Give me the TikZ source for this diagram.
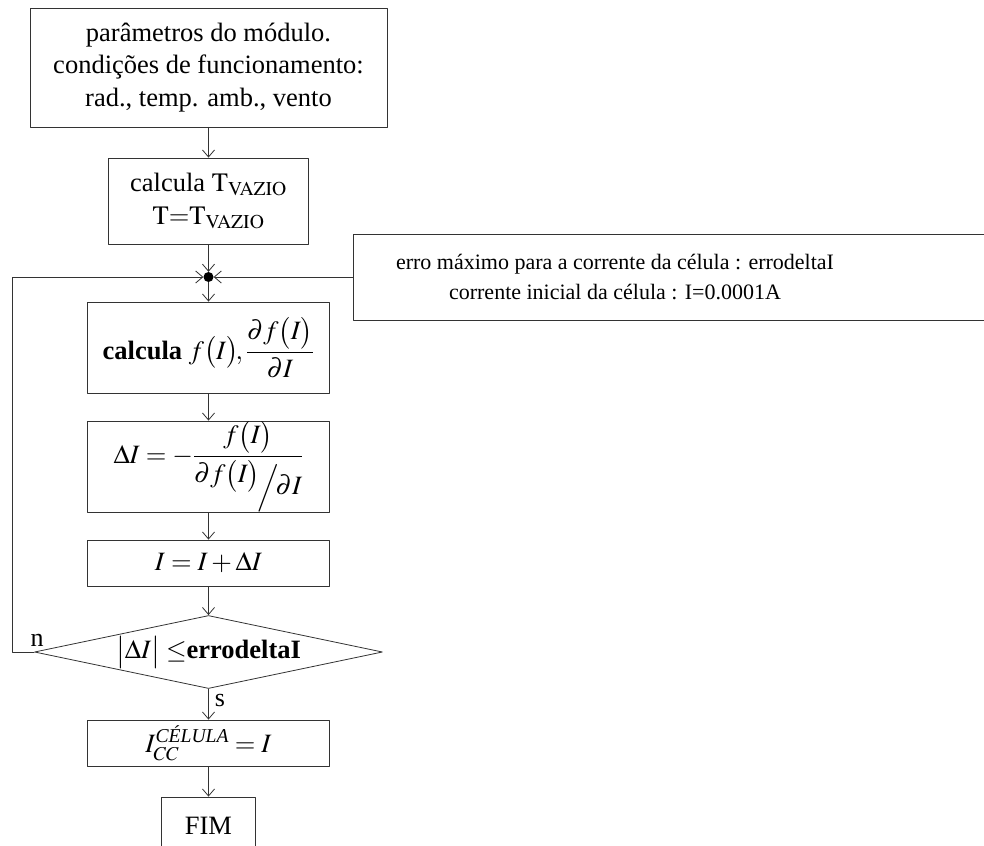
\documentclass[tikz,border=0pt]{standalone}
\usepackage{amsmath}
\usepackage{mathptmx}
\usepackage{fontspec}
\setmainfont{Liberation Serif}
\usetikzlibrary{arrows.meta,shapes.geometric,fit}

\begin{document}
\begin{tikzpicture}[x=1pt, y=-1pt, line cap=round, line join=round,
    box/.style={rectangle, draw=black!80, line width=0.8pt, inner sep=0pt, align=center, font=\fontsize{26.5}{32.5}\selectfont},
    test/.style={diamond, draw=black!80, line width=0.8pt, inner sep=0pt, aspect=4.77, font=\fontsize{26.5}{32.5}\selectfont},
    flow/.style={draw=black!80, line width=0.8pt, -{Straight Barb[length=7pt, width=12pt]}}]
  \clip (0,0) rectangle (984,845);
  % Input data
  \node [box, minimum width=357, minimum height=119] (params) at (208.5, 67.5) {parâmetros do módulo.\\condições de funcionamento:\\rad., temp. amb., vento};
  \node [box, minimum width=200, minimum height=86] (calc) at (208.5, 201) {calcula $\mathrm{T}_{\mathrm{VAZIO}}$\\$\mathrm{T}{=}\mathrm{T}_{\mathrm{VAZIO}}$};
  \node [circle, fill=black, inner sep=0pt, minimum size=10] (join) at (208.5, 277) {};
  \node [draw=black!80, line width=0.8pt, inner sep=0pt, fit={(353,234) (995,320)}] (errobox) {};
  \node [font=\fontsize{22}{30}\selectfont, align=center] (erro) at (615, 277) {erro máximo para a corrente da célula : errodeltaI\\corrente inicial da célula : I=0.0001A};
  % Newton iteration
  \node [box, minimum width=242, minimum height=91] (fI) at (208.5, 347.5) {\textbf{calcula} $f\bigl(I\bigr)\!,\dfrac{\partial f\bigl(I\bigr)}{\partial I}$};
  \node [box, minimum width=242, minimum height=91] (dI) at (208.5, 466.5) {$\Delta I=-\dfrac{f\bigl(I\bigr)}{\partial f\bigl(I\bigr)\!\raisebox{-0.45em}{$\Big/\!\partial I$}}$};
  \node [box, minimum width=242, minimum height=46] (upd) at (208.5, 563) {$I=I+\Delta I$};
  \node [test, minimum width=348, minimum height=73] (dec) at (208.5, 652) {$\bigl|\Delta I\bigr|\leq$\textbf{errodeltaI}};
  % Result
  \node [box, minimum width=242, minimum height=46] (icc) at (208.5, 743) {$I_{CC}^{\textit{CÉLULA}}=I$};
  \node [box, minimum width=94, minimum height=58] (fim) at (208.5, 826) {FIM};
  % Arrows
  \foreach \a/\b in {params/calc, calc/join, join/fI, fI/dI, dI/upd, upd/dec, dec/icc, icc/fim}
    \draw [flow] (\a) -- (\b);
  \draw [flow] (errobox.west) -- (join);
  \coordinate (back) at (12, 652);
  \draw [flow] (dec.west) -- (back) |- (join);
  % Branch labels
  \node [font=\fontsize{26}{30}\selectfont] (lbl-n) at (37, 640) {n};
  \node [font=\fontsize{26}{30}\selectfont] (lbl-s) at (220, 700) {s};
\end{tikzpicture}
\end{document}
